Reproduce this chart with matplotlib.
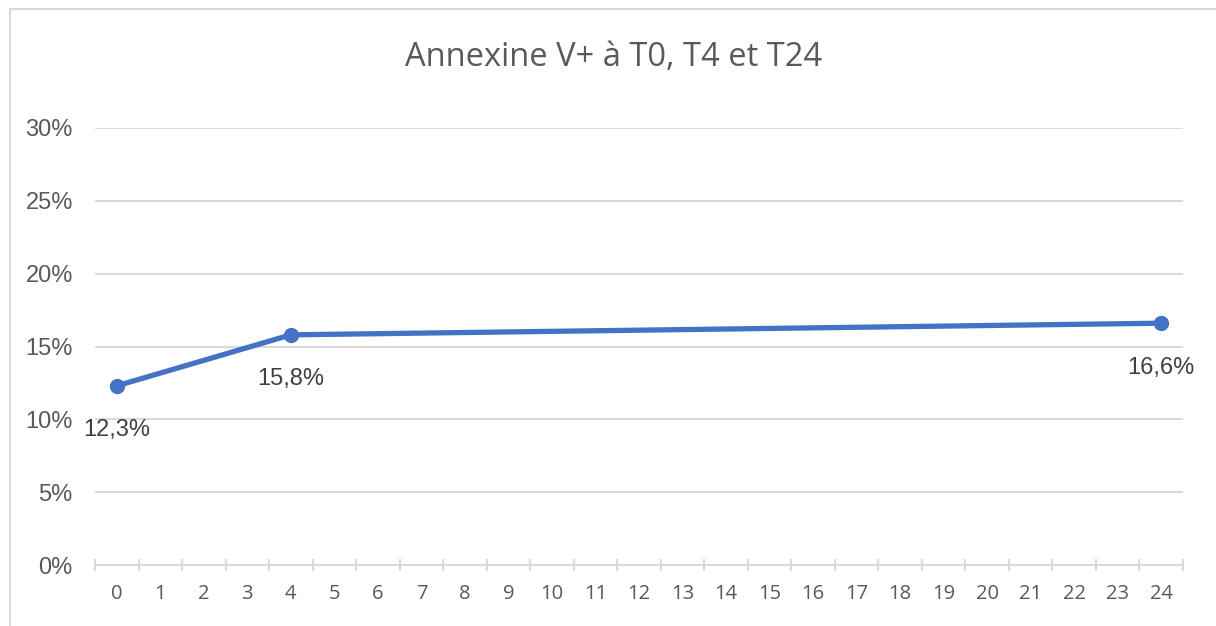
import matplotlib
matplotlib.use('Agg')
import matplotlib.pyplot as plt
from matplotlib.lines import Line2D
import numpy as np

# data
categories = list(range(25))
hours = [0, 4, 24]
annexin_pct = [12.3, 15.8, 16.6]
point_labels = ['12,3%', '15,8%', '16,6%']
y_ticks = [0, 5, 10, 15, 20, 25, 30]
title = 'Annexine V+ à T0, T4 et T24'

blue = '#4472C4'
grey_text = '#595959'
grid_col = '#D9D9D9'

fig = plt.figure(figsize=(12.16, 6.26), dpi=100)
ax = fig.add_axes([95/1216, 1 - 565/626, (1183 - 95)/1216, (565 - 128)/626])

ax.plot(hours, annexin_pct, color=blue, lw=3.8, marker='o', ms=10,
        solid_capstyle='round', zorder=3)
for x, y, s in zip(hours, annexin_pct, point_labels):
    ax.annotate(s, (x, y), xytext=(0, -32), textcoords='offset points',
                ha='center', va='center', fontsize=17, color='#404040',
                family='Liberation Sans')

ax.set_xlim(-0.5, 24.5)
ax.set_ylim(0, 30)

# y axis
ax.set_yticks(y_ticks)
ax.set_yticklabels(['%d%%' % v for v in y_ticks], family='Liberation Sans',
                   fontsize=17, color=grey_text)
ax.tick_params(axis='y', length=0, pad=16)
for v in y_ticks[1:]:
    ax.axhline(v, color=grid_col, lw=1.5, zorder=1)

# x axis (category style, ticks between categories)
ax.set_xticks(categories)
ax.set_xticklabels([str(c) for c in categories], family='Open Sans',
                   fontsize=14.5, color=grey_text)
ax.set_xticks(np.arange(-0.5, 25, 1), minor=True)
ax.tick_params(axis='x', which='major', length=0, pad=14)
ax.tick_params(axis='x', which='minor', length=8, width=1.5, color=grid_col,
               direction='inout')

for side in ['top', 'right', 'left']:
    ax.spines[side].set_visible(False)
ax.spines['bottom'].set_color(grid_col)
ax.spines['bottom'].set_linewidth(1.5)

fig.text(614/1216, 1 - 57/626, title, ha='center', va='center',
         fontsize=23.5, color=grey_text, family='Open Sans')

# chart border (left and top edges visible)
fig.add_artist(Line2D([10/1216, 10/1216], [0, 1 - 9/626], color=grid_col,
                      lw=1.5, transform=fig.transFigure))
fig.add_artist(Line2D([10/1216, 1], [1 - 9/626, 1 - 9/626], color=grid_col,
                      lw=1.5, transform=fig.transFigure))

fig.savefig('out.png', dpi=100)
